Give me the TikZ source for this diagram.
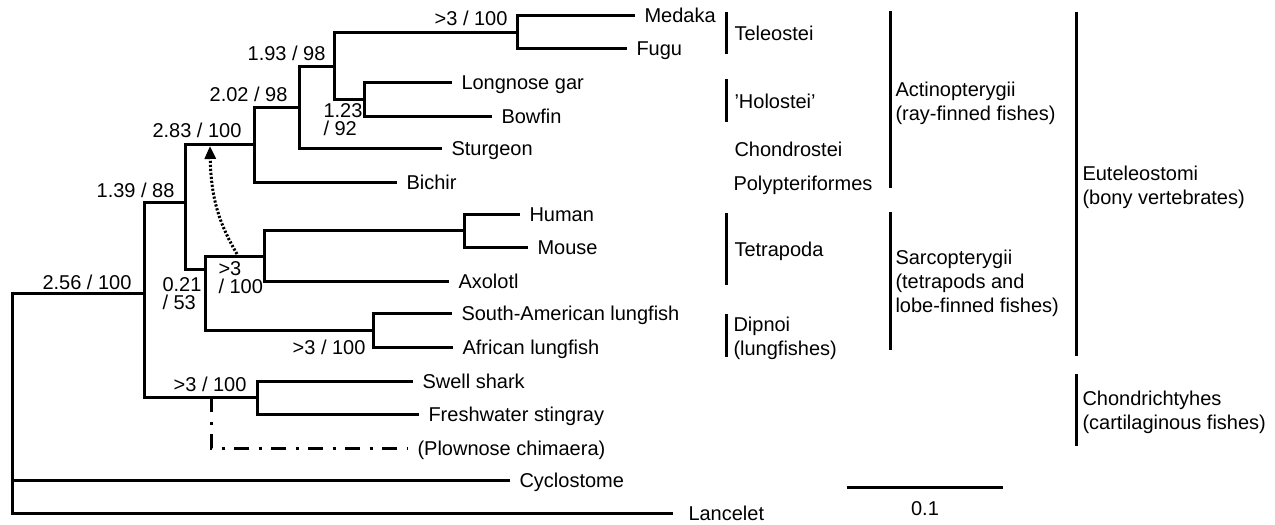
\documentclass[tikz,border=0pt]{standalone}
\usepackage{fontspec}
\setmainfont{Liberation Sans}
\usepackage{tikz}
\usetikzlibrary{arrows.meta,calc}
\definecolor{ink}{HTML}{000000}
\tikzset{
  every picture/.style={line width=1.5pt,font=\fontsize{10}{12}\selectfont},
  tip/.style={anchor=west,inner xsep=4pt,inner ysep=0pt,text height=7.2pt,text depth=0pt,text=ink},
  bs/.style={inner sep=0pt,text height=7.2pt,text depth=0pt,text=ink},
  bstwo/.style={anchor=west,inner sep=0pt,align=left,text=ink,font=\fontsize{10}{9}\selectfont},
  cl/.style={anchor=west,inner sep=0pt,text height=7.2pt,text depth=0pt,text=ink},
  cltwo/.style={anchor=west,inner sep=0pt,align=left,text=ink},
  br/.style={draw=ink},
  bar/.style={draw=ink,line width=1.5pt},
  lost/.style={draw=ink,dash pattern=on 7.5pt off 4.75pt on 1.5pt off 4.75pt},
  mv/.style={draw=ink,-{Triangle[length=6.5pt,width=5.5pt]},line width=1.5pt,dash pattern=on 1.1pt off 0.9pt},
}
\begin{document}
\begin{tikzpicture}[x=0.5pt,y=-0.5pt]
  \useasboundingbox (0,0) rectangle (1275,525);
  \coordinate (root) at (12,293); \coordinate (n256) at (144,293);
  \coordinate (n139) at (185,202); \coordinate (n283) at (254,144);
  \coordinate (n202) at (299,107); \coordinate (n193) at (334,66);
  \coordinate (ntel) at (517,32); \coordinate (n123) at (364,99);
  \coordinate (n021) at (205,269); \coordinate (ntet) at (264,256);
  \coordinate (nhm) at (464,230); \coordinate (ndip) at (373,330);
  \coordinate (nchon) at (257,397); \coordinate (nchim) at (211,397);
  \node[tip] (medaka) at (635,15) {Medaka};
  \node[tip] (fugu) at (627,48) {Fugu};
  \node[tip] (gar) at (452,82) {Longnose gar};
  \node[tip] (bowfin) at (492,116) {Bowfin};
  \node[tip] (sturgeon) at (442,148) {Sturgeon};
  \node[tip] (bichir) at (397,182) {Bichir};
  \node[tip] (human) at (520,214) {Human};
  \node[tip] (mouse) at (528,247) {Mouse};
  \node[tip] (axolotl) at (449,281) {Axolotl};
  \node[tip] (salung) at (452,313) {South-American lungfish};
  \node[tip] (aflung) at (453,347) {African lungfish};
  \node[tip] (shark) at (413,381) {Swell shark};
  \node[tip] (ray) at (419,414) {Freshwater stingray};
  \node[tip] (chim) at (408,448) {(Plownose chimaera)};
  \node[tip] (cyclo) at (510,480) {Cyclostome};
  \node[tip,inner xsep=7pt] (lance) at (673,513) {Lancelet};
  \draw[br] (medaka.west) -| (ntel) |- (fugu.west);
  \draw[br] (gar.west) -| (n123) |- (bowfin.west);
  \draw[br] (ntel) -| (n193) |- (n123);
  \draw[br] (n193) -| (n202) |- (sturgeon.west);
  \draw[br] (n202) -| (n283) |- (bichir.west);
  \draw[br] (n283) -| (n139) |- (n021);
  \draw[br] (human.west) -| (nhm) |- (mouse.west);
  \draw[br] (nhm) -| (ntet) |- (axolotl.west);
  \draw[br] (salung.west) -| (ndip) |- (aflung.west);
  \draw[br] (ntet) -| (n021) |- (ndip);
  \draw[br] (shark.west) -| (nchon) |- (ray.west);
  \draw[br] (n139) -| (n256) |- (nchon);
  \draw[br] (n256) -| (root) |- (lance.west);
  \draw[br] (root |- cyclo.west) -- (cyclo.west);
  \draw[lost] (nchim) |- (chim.west);
  \coordinate (mvfrom) at (237,254); \coordinate (mvto) at (210,146);
  \draw[mv] (mvfrom) .. controls (220,225) and (211,200) .. (mvto);
  \node[bs,anchor=east] (b256) at (133,282) {2.56 / 100};
  \node[bs,anchor=east] (b139) at (176,190) {1.39 / 88};
  \node[bs,anchor=east] (b283) at (243,130) {2.83 / 100};
  \node[bs,anchor=east] (b202) at (289,94) {2.02 / 98};
  \node[bs,anchor=east] (b193) at (327,53) {1.93 / 98};
  \node[bs,anchor=east] (btel) at (509,18) {>3 / 100};
  \node[bs,anchor=east] (bdip) at (367,347) {>3 / 100};
  \node[bs,anchor=east] (bchon) at (248,384) {>3 / 100};
  \node[bstwo] (b123) at (322,120) {1.23\\/ 92};
  \node[bstwo] (b021) at (161,294) {0.21\\/ 53};
  \node[bstwo] (btet) at (217,278) {>3\\/ 100};
  \draw[bar] (726,12) -- (726,54); \node[cl] (teleo) at (733,33) {Teleostei};
  \draw[bar] (726,79) -- (726,122); \node[cl] (holo) at (733,101) {'Holostei'};
  \node[cl] (chondro) at (733,149) {Chondrostei};
  \node[cl] (poly) at (732,183) {Polypteriformes};
  \draw[bar] (726,213) -- (726,285); \node[cl] (tetra) at (733,249) {Tetrapoda};
  \draw[bar] (726,314) -- (726,357); \node[cltwo] (dipnoi) at (732,338) {Dipnoi\\(lungfishes)};
  \draw[bar] (890,11) -- (890,188); \node[cltwo] (actino) at (894,103) {Actinopterygii\\(ray-finned fishes)};
  \draw[bar] (890,212) -- (890,350); \node[cltwo] (sarco) at (894,283) {Sarcopterygii\\(tetrapods and\\lobe-finned fishes)};
  \draw[bar] (1076,12) -- (1076,356); \node[cltwo] (eutel) at (1081,187) {Euteleostomi\\(bony vertebrates)};
  \draw[bar] (1076,374) -- (1076,446); \node[cltwo] (chondri) at (1081,412) {Chondrichtyhes\\(cartilaginous fishes)};
  \draw[bar] (847,487) -- (1003,487); \node[bs] (scale) at (925,508) {0.1};
\end{tikzpicture}
\end{document}
